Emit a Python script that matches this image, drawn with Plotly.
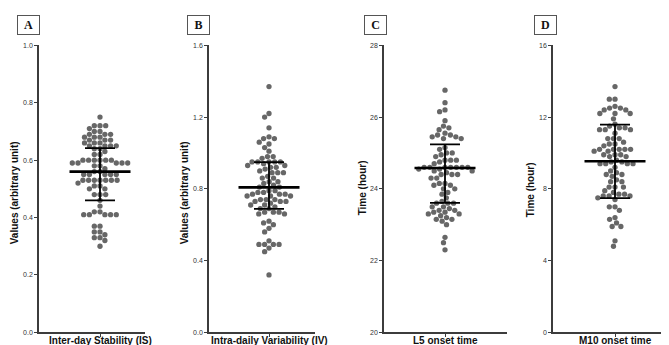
import numpy as np
import plotly.graph_objects as go

W, H = 669, 345

panel_letters = ["A", "B", "C", "D"]
categories = ["Inter-day Stability (IS)", "Intra-daily Variability (IV)", "L5 onset time", "M10 onset time"]
y_titles = ["Values (arbitrary unit)", "Values (arbitrary unit)", "Time (hour)", "Time (hour)"]
y_ranges = [[0, 1.0], [0, 1.6], [20, 28], [0, 16]]
y_tickvals = [[0, 0.2, 0.4, 0.6, 0.8, 1.0], [0, 0.4, 0.8, 1.2, 1.6], [20, 22, 24, 26, 28], [0, 4, 8, 12, 16]]
y_ticktext = [["0.0", "0.2", "0.4", "0.6", "0.8", "1.0"], ["0.0", "0.4", "0.8", "1.2", "1.6"],
              ["20", "22", "24", "26", "28"], ["0", "4", "8", "12", "16"]]

is_vals = [0.75,
           0.72, 0.72, 0.72, 0.71,
           0.70, 0.70, 0.69, 0.69, 0.69,
           0.68, 0.68, 0.68, 0.67, 0.67, 0.67,
           0.66, 0.66, 0.66, 0.65, 0.65, 0.65, 0.65,
           0.64, 0.64, 0.63, 0.62, 0.62,
           0.60, 0.60, 0.60, 0.60, 0.60, 0.60, 0.59, 0.59, 0.59, 0.59, 0.59,
           0.58, 0.58,
           0.57, 0.56, 0.56,
           0.55, 0.55, 0.55, 0.55, 0.55,
           0.53, 0.53, 0.53, 0.53, 0.53, 0.53, 0.53,
           0.52, 0.51, 0.51,
           0.50, 0.50,
           0.48, 0.48, 0.48,
           0.46, 0.44,
           0.42, 0.42,
           0.41, 0.41, 0.41, 0.41, 0.41,
           0.37, 0.37,
           0.35, 0.35, 0.34, 0.33, 0.33, 0.32, 0.30]

iv_vals = [1.37,
           1.22, 1.20,
           1.14,
           1.09, 1.08, 1.08,
           1.06, 1.05,
           1.03, 1.01,
           0.98, 0.98, 0.97,
           0.95, 0.95, 0.95, 0.95, 0.95, 0.94,
           0.93, 0.93, 0.92, 0.92,
           0.91, 0.90, 0.89, 0.89, 0.89,
           0.87, 0.86, 0.86,
           0.84, 0.84, 0.83,
           0.82, 0.81, 0.81,
           0.79, 0.79, 0.78, 0.78,
           0.77, 0.77, 0.77, 0.76, 0.76, 0.76,
           0.74, 0.74, 0.74, 0.73, 0.73, 0.73,
           0.72, 0.71, 0.71,
           0.70, 0.69, 0.69,
           0.67, 0.67, 0.67, 0.66, 0.66,
           0.62, 0.61, 0.60,
           0.58, 0.56,
           0.51,
           0.49, 0.49, 0.49, 0.49,
           0.47, 0.45,
           0.32]

l5_vals = [26.75,
           26.4, 26.2, 26.15,
           25.9,
           25.75, 25.7, 25.65,
           25.55, 25.5, 25.5, 25.45, 25.45, 25.4, 25.4,
           25.15, 25.1,
           25.0, 25.0, 24.95,
           24.9, 24.8, 24.8, 24.8,
           24.75, 24.7,
           24.6, 24.6, 24.6, 24.6, 24.6, 24.6, 24.6, 24.55, 24.55,
           24.5, 24.5, 24.45, 24.4, 24.4, 24.4,
           24.3, 24.3,
           24.15, 24.15, 24.1, 24.1,
           24.0, 24.0,
           23.9, 23.85,
           23.75,
           23.65, 23.6, 23.6, 23.6,
           23.5, 23.5, 23.45,
           23.4, 23.4, 23.35, 23.35,
           23.3, 23.3, 23.25,
           23.2, 23.15, 23.15, 23.1,
           23.0,
           22.65, 22.5, 22.3]

m10_vals = [13.7,
            13.0, 13.0,
            12.6, 12.5, 12.5, 12.4, 12.4,
            12.2, 12.2, 12.2,
            11.9,
            11.6, 11.5,
            11.4, 11.4, 11.3, 11.3, 11.3,
            11.1,
            10.8, 10.8, 10.8,
            10.6, 10.5, 10.5, 10.4,
            10.2, 10.2, 10.2, 10.2, 10.2, 10.1, 10.1,
            9.9, 9.9, 9.9, 9.8, 9.8,
            9.6, 9.5, 9.5, 9.4, 9.4, 9.4, 9.4,
            9.2, 9.0,
            8.9, 8.8, 8.8, 8.7,
            8.5, 8.4, 8.4,
            8.1, 8.1, 8.1,
            7.9, 7.8,
            7.7, 7.7, 7.6, 7.6, 7.6,
            7.5, 7.4,
            7.0, 7.0,
            6.8,
            6.4, 6.3,
            6.1,
            5.9, 5.9,
            5.1,
            4.8]

series = [is_vals, iv_vals, l5_vals, m10_vals]
center_vals = [0.56, 0.808, 24.58, 9.54]
upper_vals = [0.642, 0.949, 25.24, 11.58]
lower_vals = [0.46, 0.688, 23.61, 7.48]

# layout in pixels
plot_top, plot_bottom = 34, 327
axis_left = [31, 201, 376, 545]
axis_right = [137, 307, 499, 669]
cat_x = [92, 261, 437, 607]
cat_label_y = 335
ytitle_x = [6, 176, 354, 522]
ytitle_y = [185, 185, 180, 182]
letter_x = [20, 190, 367.5, 537.5]
letter_y = 13

DOT_D = 5.7
DOT_COLOR = "#676767"
AX_COLOR = "#3c3c3c"
FONT = "Liberation Sans, Arial, sans-serif"


def beeswarm(vals, px_per_unit, d):
    ys = np.asarray(vals, dtype=float) * px_per_unit
    xs = np.zeros(len(ys))
    placed = []
    for i in np.argsort(-ys, kind="stable"):
        y = ys[i]
        cands = [0.0]
        for xj, yj in placed:
            dy = abs(y - yj)
            if dy < d:
                dx = np.sqrt(d * d - dy * dy)
                cands += [xj + dx, xj - dx]
        cands.sort(key=lambda c: (abs(c), c))
        for c in cands:
            if all((c - xj) ** 2 + (y - yj) ** 2 >= d * d - 1e-6 for xj, yj in placed):
                xs[i] = c
                break
        placed.append((xs[i], y))
    return xs


fig = go.Figure()
ph = plot_bottom - plot_top
annotations = []

for k in range(4):
    xa = "x" if k == 0 else f"x{k+1}"
    ya = "y" if k == 0 else f"y{k+1}"
    xl = "xaxis" if k == 0 else f"xaxis{k+1}"
    yl = "yaxis" if k == 0 else f"yaxis{k+1}"
    vals = series[k]
    ppu = ph / (y_ranges[k][1] - y_ranges[k][0])
    xs = beeswarm(vals, ppu, DOT_D)

    fig.add_trace(go.Scatter(x=xs, y=vals, mode="markers", xaxis=xa, yaxis=ya,
                             marker=dict(size=5.3, color=DOT_COLOR, line=dict(width=0)),
                             showlegend=False, hoverinfo="y"))
    # mean line
    fig.add_trace(go.Scatter(x=[-30.5, 30.5], y=[center_vals[k]] * 2, mode="lines",
                             xaxis=xa, yaxis=ya, line=dict(color="black", width=2.6),
                             showlegend=False, hoverinfo="skip"))
    # SD bars
    u, l = upper_vals[k], lower_vals[k]
    fig.add_trace(go.Scatter(x=[0, 0, None, -15, 15, None, -15, 15],
                             y=[l, u, None, u, u, None, l, l], mode="lines",
                             xaxis=xa, yaxis=ya, line=dict(color="black", width=1.8),
                             showlegend=False, hoverinfo="skip"))

    fig.layout[xl] = dict(
        domain=[axis_left[k] / W, axis_right[k] / W],
        range=[axis_left[k] - cat_x[k], axis_right[k] - cat_x[k]],
        anchor=ya, showgrid=False, zeroline=False, showline=True,
        linecolor=AX_COLOR, linewidth=1.5, ticks="outside", ticklen=3, tickwidth=1.2,
        tickcolor=AX_COLOR, tickvals=[0], ticktext=[""],
        fixedrange=True)
    fig.layout[yl] = dict(
        domain=[1 - plot_bottom / H, 1 - plot_top / H],
        range=y_ranges[k], anchor=xa, showgrid=False, zeroline=False, showline=True,
        linecolor=AX_COLOR, linewidth=1.5, ticks="outside", ticklen=3, tickwidth=1.2,
        tickcolor=AX_COLOR, tickvals=y_tickvals[k], ticktext=y_ticktext[k],
        tickfont=dict(family=FONT, size=7, color="#333"), fixedrange=True)

    annotations.append(dict(x=0, y=1 - cat_label_y / H, xref=xa, yref="paper",
                            text=categories[k], showarrow=False,
                            font=dict(family=FONT, size=10, color="#111", weight="bold"),
                            xanchor="center", yanchor="middle"))
    annotations.append(dict(x=ytitle_x[k] / W, y=1 - ytitle_y[k] / H, xref="paper", yref="paper",
                            text=y_titles[k], textangle=-90, showarrow=False,
                            font=dict(family=FONT, size=10, color="#111", weight="bold"),
                            xanchor="center", yanchor="middle"))
    annotations.append(dict(x=letter_x[k] / W, y=1 - letter_y / H, xref="paper", yref="paper",
                            text=panel_letters[k], showarrow=False,
                            font=dict(family="Liberation Serif, Times New Roman, serif", size=12,
                                      color="#111", weight="bold"),
                            bordercolor="#555", borderwidth=1, borderpad=3,
                            width=15, height=12, xanchor="center", yanchor="middle"))

fig.update_layout(width=W, height=H, margin=dict(l=0, r=0, t=0, b=0),
                  plot_bgcolor="white", paper_bgcolor="white", annotations=annotations)

fig.write_html("out.html")
